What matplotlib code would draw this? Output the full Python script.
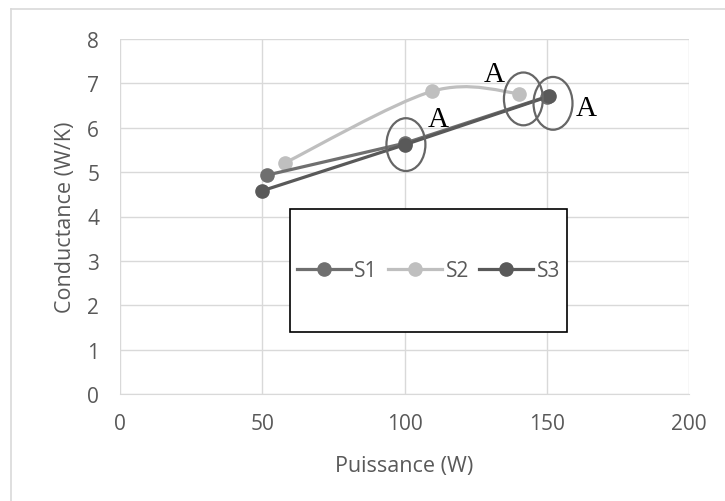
import numpy as np
import matplotlib
matplotlib.use('Agg')
from matplotlib import pyplot as plt
from matplotlib.patches import Ellipse, Rectangle, PathPatch
from matplotlib.path import Path
from matplotlib.lines import Line2D

# Data
s1_x = [51.5, 100, 150]
s1_y = [4.93, 5.65, 6.70]
s2_x = [58, 109.6, 140.4]
s2_y = [5.21, 6.82, 6.77]
s3_x = [50, 100.2, 150.9]
s3_y = [4.58, 5.62, 6.71]

# Ellipse marks (centre x, centre y) and "A" labels
ell_x = [100.5, 141.8, 152.2]
ell_y = [5.62, 6.65, 6.55]
lab_x = [112, 131.5, 163.8]
lab_y = [6.2, 7.22, 6.45]

xticks = [0, 50, 100, 150, 200]
yticks = [0, 1, 2, 3, 4, 5, 6, 7, 8]

c1 = '#6f6f6f'
c2 = '#bfbfbf'
c3 = '#595959'
grid_c = '#d9d9d9'
txt_c = '#595959'

plt.rcParams['font.family'] = ['Open Sans', 'DejaVu Sans']

fig = plt.figure(figsize=(7.25, 5.02), dpi=100, facecolor='w')
ax = fig.add_axes([120/725, 1-395/502, (689-120)/725, (395-40)/502])

# outer chart border (Excel chart area)
fig.add_artist(Line2D([11/725, 11/725], [0, 1-10/502], color=grid_c, lw=1.2,
                      transform=fig.transFigure))
fig.add_artist(Line2D([11/725, 1], [1-10/502, 1-10/502], color=grid_c, lw=1.2,
                      transform=fig.transFigure))


def smooth_path(xs, ys):
    # Excel-style smoothed line through the points, as cubic bezier segments
    pts = np.column_stack([xs, ys])
    n = len(pts)
    verts = [pts[0]]
    codes = [Path.MOVETO]
    for i in range(n - 1):
        p0 = pts[i - 1] if i > 0 else pts[i]
        p1 = pts[i]
        p2 = pts[i + 1]
        p3 = pts[i + 2] if i + 2 < n else pts[i + 1]
        verts += [p1 + (p2 - p0) / 6, p2 - (p3 - p1) / 6, p2]
        codes += [Path.CURVE4] * 3
    return Path(verts, codes)


lw = 2.3
ms = 9.5
ax.plot(s1_x, s1_y, color=c1, lw=lw, marker='o', ms=ms, zorder=4, label='S1')
ax.add_patch(PathPatch(smooth_path(s2_x, s2_y), facecolor='none', edgecolor=c2,
                       lw=lw, zorder=3))
ax.plot(s2_x, s2_y, color=c2, lw=0, marker='o', ms=ms, zorder=3)
ax.plot(s3_x, s3_y, color=c3, lw=lw, marker='o', ms=ms, zorder=5)

for ex, ey in zip(ell_x, ell_y):
    ax.add_patch(Ellipse((ex, ey), 13.7, 1.19, facecolor='none',
                         edgecolor='#666666', lw=1.6, zorder=6))
for lx, ly in zip(lab_x, lab_y):
    ax.text(lx, ly, 'A', family='Liberation Serif', fontsize=21,
            ha='center', va='center', color='black', zorder=7)

ax.set_xlim(0, 200)
ax.set_ylim(0, 8)
ax.set_xticks(xticks)
ax.set_yticks(yticks)
ax.grid(True, color=grid_c, lw=1)
ax.set_axisbelow(True)
for sp in ['top', 'right', 'left']:
    ax.spines[sp].set_visible(False)
ax.spines['bottom'].set_color(grid_c)
ax.tick_params(length=0, labelsize=15, colors=txt_c)
ax.tick_params(axis='x', pad=14)
ax.tick_params(axis='y', pad=15)
ax.set_xlabel('Puissance (W)', fontsize=15.5, color=txt_c, labelpad=15)
ax.set_ylabel('Conductance (W/K)', fontsize=15.5, color=txt_c, labelpad=8)

# legend in a black box
x0 = (290-120)/569
x1 = (567-120)/569
y0 = (395-333)/355
y1 = (395-210)/355
ax.add_patch(Rectangle((x0, y0), x1-x0, y1-y0, transform=ax.transAxes,
                       facecolor='white', edgecolor='black', lw=1.2, zorder=8))
handles = [Line2D([], [], color=c, lw=lw, marker='o', ms=ms) for c in (c1, c2, c3)]
leg = ax.legend(handles, ['S1', 'S2', 'S3'], loc='center', ncol=3,
                bbox_to_anchor=((x0+x1)/2, (y0+y1)/2), frameon=False,
                fontsize=15, handlelength=2.6, handletextpad=0.15,
                columnspacing=0.5, labelcolor=txt_c)
leg.set_zorder(9)

fig.savefig('out.png', dpi=100)
